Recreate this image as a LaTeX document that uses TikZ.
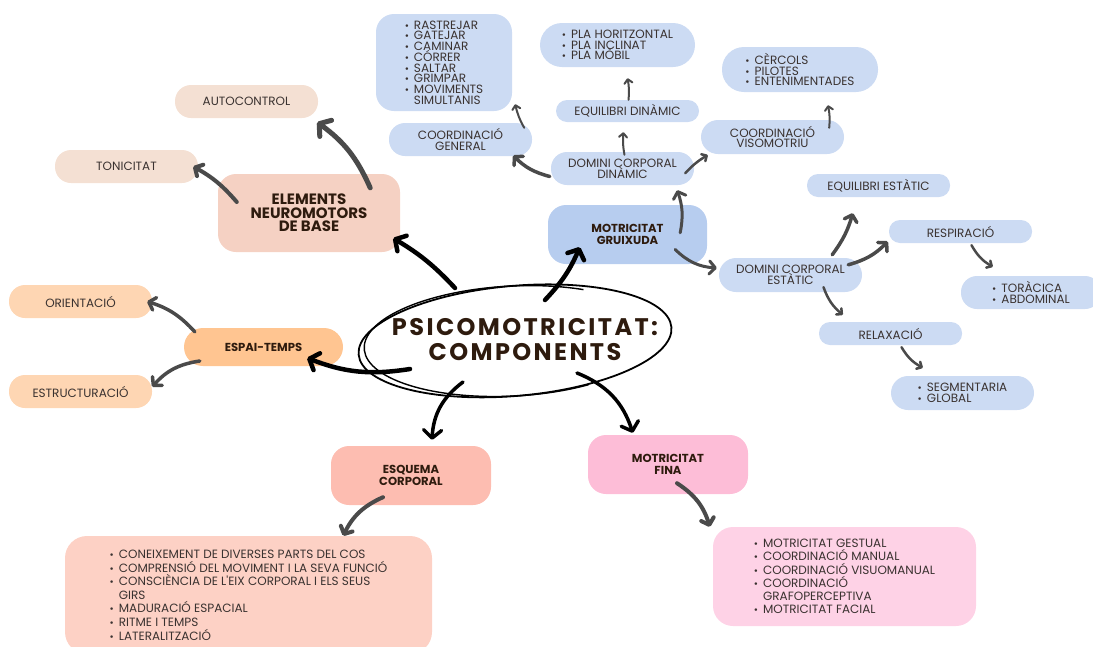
\documentclass[tikz,border=0pt]{standalone}
\usepackage{fontspec}
\setmainfont{Poppins}
\usetikzlibrary{arrows.meta,calc}

\definecolor{cBlue}{HTML}{CCDBF3}
\definecolor{cBlueD}{HTML}{B7CDEF}
\definecolor{cBeige}{HTML}{F4E0D3}
\definecolor{cPeach}{HTML}{F5D1C3}
\definecolor{cOrgL}{HTML}{FED6B3}
\definecolor{cOrg}{HTML}{FFC591}
\definecolor{cSalm}{HTML}{FDBDB1}
\definecolor{cSalmL}{HTML}{FDD1C5}
\definecolor{cPink}{HTML}{FDBDD7}
\definecolor{cPinkL}{HTML}{FED2E6}
\definecolor{cInk}{HTML}{3A3230}
\definecolor{cBrn}{HTML}{2E1B0E}
\definecolor{cArr}{HTML}{4A4A4A}

\newcommand{\itm}{\scalebox{.85}{\textbullet}\hspace{5pt}}
\newcommand{\itc}{\hphantom{\itm}}
\newcommand{\fsz}[2]{\fontsize{#1}{#2}\selectfont\lineskiplimit=-20pt}

\tikzset{
  box/.style={rounded corners=16pt, minimum width=143pt, minimum height=33pt, inner sep=0pt,
    align=center, text=cInk, font=\fsz{12}{10.8}},
  headbox/.style={box, rounded corners=18pt, minimum width=160pt, minimum height=59pt,
    text=cBrn, font=\bfseries\fsz{11.6}{11.8}},
  lst/.style={box, align=left, font=\fsz{12}{10.7}},
  arr/.style={draw=cArr, line width=3.5pt, line cap=round, -{Straight Barb[round,length=6pt,width=13pt]}},
  arrsm/.style={draw=cArr, line width=2pt, line cap=round, -{Straight Barb[round,length=4pt,width=8pt]}},
  blk/.style={draw=black, line width=4.5pt, line cap=round, -{Straight Barb[round,length=8pt,width=18pt]}},
}

\begin{document}
\begin{tikzpicture}[x=1pt,y=-1pt]
\useasboundingbox (0,0) rectangle (1093,646);

% centre
\node[font={\bfseries\fsz{24}{25}\addfontfeature{LetterSpace=10}}, text=cBrn, align=center]
  (title) at (525,340) {PSICOMOTRICITAT:\\COMPONENTS};
\draw[line width=1.8pt, rotate around={5:(title.center)}] ($(title.center)+(-10,0)$) ellipse [x radius=157, y radius=55];
\draw[line width=1.4pt, rotate around={3:(title.center)}] ($(title.center)+(61,48)$)
  arc[start angle=60, end angle=300, x radius=148, y radius=55];

% elements neuromotors
\node[headbox, fill=cPeach, minimum width=182pt, minimum height=78pt, font=\bfseries\fsz{15}{13.5}]
  (elem) at (309,213) {ELEMENTS\\NEUROMOTORS\\DE BASE};
\node[box, fill=cBeige] (autoc) at (246.5,101.5) {AUTOCONTROL};
\node[box, fill=cBeige] (tonic) at (126.5,166.5) {TONICITAT};

% espai-temps
\node[headbox, fill=cOrg, minimum width=159pt, minimum height=38pt, rounded corners=19pt] (espai) at (263.5,347) {ESPAI-TEMPS};
\node[box, fill=cOrgL] (orient) at (80.5,301.5) {ORIENTACIÓ};
\node[box, fill=cOrgL] (estruc) at (80.5,391.5) {ESTRUCTURACIÓ};

% esquema corporal
\node[headbox, fill=cSalm] (esq) at (411,475.5) {ESQUEMA\\CORPORAL};
\node[lst, fill=cSalmL, minimum width=367pt, minimum height=118pt, rounded corners=22pt, font=\fsz{12}{13.6}]
  (esqlist) at (248.5,595) {\itm CONEIXEMENT DE DIVERSES PARTS DEL COS\\
  \itm COMPRENSIÓ DEL MOVIMENT I LA SEVA FUNCIÓ\\
  \itm CONSCIÈNCIA DE L\textquotesingle EIX CORPORAL I ELS SEUS\\
  \itc GIRS\\
  \itm MADURACIÓ ESPACIAL\\
  \itm RITME I TEMPS\\
  \itm LATERALITZACIÓ};

% motricitat fina
\node[headbox, fill=cPink] (fina) at (668,464.5) {MOTRICITAT\\FINA};
\node[lst, fill=cPinkL, minimum width=263pt, minimum height=99pt, rounded corners=20pt, font=\fsz{12}{13.3}]
  (finalist) at (844.5,576.5) {\itm MOTRICITAT GESTUAL\\
  \itm COORDINACIÓ MANUAL\\
  \itm COORDINACIÓ VISUOMANUAL\\
  \itm COORDINACIÓ\\
  \itc GRAFOPERCEPTIVA\\
  \itm MOTRICITAT FACIAL};

% motricitat gruixuda
\node[headbox, fill=cBlueD, minimum width=159pt] (gruix) at (627.5,234.5) {MOTRICITAT\\GRUIXUDA};
\node[box, fill=cBlue] (dcdin) at (622.5,168.5) {DOMINI CORPORAL\\DINÀMIC};
\node[box, fill=cBlue] (cgen) at (460.5,139.5) {COORDINACIÓ\\GENERAL};
\node[lst, fill=cBlue, minimum width=136pt, minimum height=97pt, rounded corners=18pt]
  (rast) at (444,62.5) {\itm RASTREJAR\\ \itm GATEJAR\\ \itm CAMINAR\\ \itm CÓRRER\\
  \itm SALTAR\\ \itm GRIMPAR\\ \itm MOVIMENTS\\ \itc SIMULTANIS};
\node[box, fill=cBlue, minimum height=22pt, rounded corners=11pt] (eqdin) at (627.5,111) {EQUILIBRI DINÀMIC};
\node[lst, fill=cBlue, minimum width=155pt, minimum height=44pt, rounded corners=22pt]
  (pla) at (617.5,45) {\itm PLA HORITZONTAL\\ \itm PLA INCLINAT\\ \itm PLA MÒBIL};
\node[box, fill=cBlue, minimum height=34pt, rounded corners=17pt] (visom) at (772.5,137) {COORDINACIÓ\\VISOMOTRIU};
\node[lst, fill=cBlue, minimum width=156pt, minimum height=45pt, rounded corners=22pt]
  (cerc) at (800,69.5) {\itm CÈRCOLS\\ \itm PILOTES\\ \itm ENTENIMENTADES};
\node[box, fill=cBlue, minimum height=34pt, rounded corners=17pt] (dcest) at (790.5,275) {DOMINI CORPORAL\\ESTÀTIC};
\node[box, fill=cBlue, minimum height=23pt, rounded corners=11pt] (eqest) at (878.5,185.5) {EQUILIBRI ESTÀTIC};
\node[box, fill=cBlue, minimum height=23pt, rounded corners=11pt] (resp) at (960.5,231.5) {RESPIRACIÓ};
\node[lst, fill=cBlue, minimum width=140pt, rounded corners=16pt]
  (torac) at (1031,292.5) {\itm TORÀCICA\\ \itm ABDOMINAL};
\node[box, fill=cBlue, minimum height=23pt, rounded corners=11pt] (relax) at (890.5,333.5) {RELAXACIÓ};
\node[lst, fill=cBlue, minimum height=34pt, rounded corners=17pt]
  (segm) at (962.5,393) {\itm SEGMENTARIA\\ \itm GLOBAL};

% arrows from the centre
\draw[blk] ($(title.center)+(-70,-52)$) to[bend right=8] ($(elem.south east)+(-7,-14)$);
\draw[blk] ($(title.center)+(20,-40)$) to[bend right=10] ($(gruix.south west)+(32,-17)$);
\draw[blk] ($(title.center)+(-115,29)$) to[bend left=15] ($(espai.east)+(-36,11)$);
\draw[blk, line width=3.5pt] ($(title.center)+(-62,42)$) to[bend right=25] ($(esq.north)+(21,-6)$);
\draw[blk, line width=3.5pt] ($(title.center)+(52,33)$) to[bend left=25] ($(fina.north west)+(45,-2)$);

% arrows to the branches
\draw[arr, line width=5pt, -{Straight Barb[round,length=8pt,width=20pt]}] ($(elem.north east)+(-30,14)$) to[bend right=15] ($(autoc.south east)+(-1,4)$);
\draw[arr, line width=4pt] ($(elem.west)+(19,-11)$) to[bend right=10] ($(tonic.east)+(-5,0)$);
\draw[arr] ($(espai.north west)+(11,4)$) to[bend right=15] ($(orient.east)+(-5,0)$);
\draw[arr] ($(espai.west)+(16,14)$) to[bend right=20] ($(estruc.north east)+(0,12)$);
\draw[arr, line width=4pt] ($(esq.south)+(-28,-8)$) to[bend right=20] ($(esqlist.north east)+(-89,0)$);
\draw[arr, line width=4pt] ($(fina.south)+(9,-11)$) to[bend left=20] ($(finalist.north west)+(-3,0)$);
\draw[arr, line width=3pt] ($(gruix.north east)+(-27,28)$) to[bend right=15] ($(dcdin.south east)+(-17,5)$);
\draw[arr, line width=3pt] ($(gruix.east)+(-32,15)$) to[bend right=20] ($(dcest.west)+(-2,-7)$);
\draw[arr] ($(dcdin.west)+(-1,8)$) to[bend left=15] ($(cgen.east)+(-19,16)$);
\draw[arrsm] ($(cgen.north east)+(-8,5)$) to[bend left=8] ($(rast.south east)+(3,-7)$);
\draw[arrsm] ($(dcdin.north)+(2,3)$) to[bend left=8] ($(eqdin.south)+(-4,10)$);
\draw[arrsm] ($(eqdin.north)+(1,0)$) to[bend right=8] ($(pla.south)+(10,11)$);
\draw[arrsm, line width=2.5pt] ($(dcdin.south east)+(-9,-12)$) to[bend left=8] ($(visom.west)+(7,18)$);
\draw[arrsm] ($(visom.north east)+(-15,8)$) to[bend right=8] ($(cerc.south)+(28,13)$);
\draw[arr] ($(dcest.north east)+(-30,-3)$) to[bend right=10] ($(eqest.south west)+(46,16)$);
\draw[arr] ($(dcest.north east)+(-14,7)$) to[bend right=15] ($(resp.west)+(-1,10)$);
\draw[arrsm, line width=2.5pt] ($(resp.south)+(11,2)$) to[bend right=15] ($(torac.north west)+(32,-9)$);
\draw[arrsm, line width=2.5pt] ($(dcest.south)+(33,-5)$) to[bend right=15] ($(relax.north west)+(24,-7)$);
\draw[arrsm, line width=2.5pt] ($(relax.south)+(11,2)$) to[bend right=15] ($(segm.north west)+(32,-8)$);
\end{tikzpicture}
\end{document}
